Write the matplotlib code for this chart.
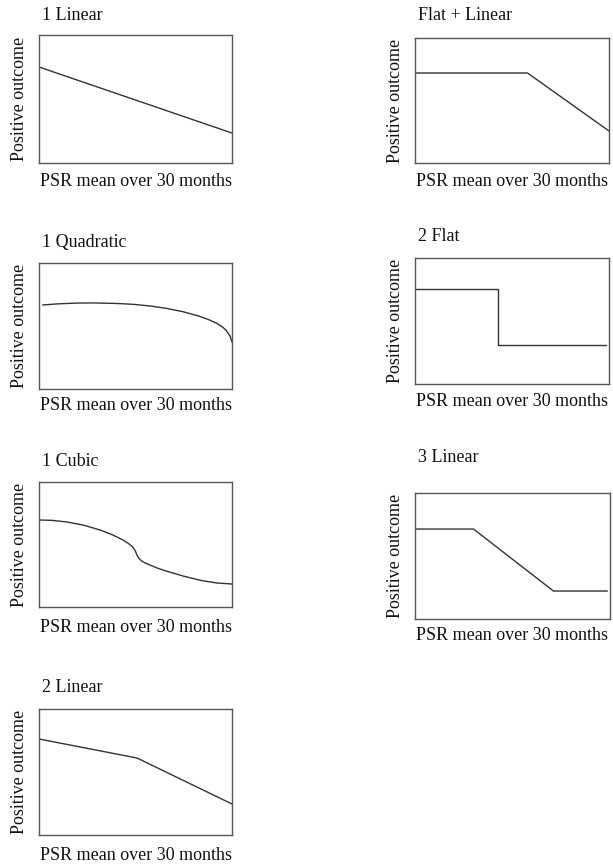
import matplotlib
matplotlib.use("Agg")
import matplotlib.pyplot as plt

W, H = 613, 865

titles = ["1 Linear", "Flat + Linear", "1 Quadratic", "2 Flat",
          "1 Cubic", "3 Linear", "2 Linear"]
xlabel_text = "PSR mean over 30 months"
ylabel_text = "Positive outcome"

# Curves (x and y in 0..1 axes units)
lin1_x = [0.0, 1.0]
lin1_y = [0.75, 0.234]

flatlin_x = [0.0, 0.58, 1.0]
flatlin_y = [0.72, 0.72, 0.256]

quad_x = [0.02, 0.10, 0.20, 0.28, 0.40, 0.49, 0.58, 0.66, 0.75, 0.83, 0.88, 0.92, 0.95, 0.97, 0.99, 1.0]
quad_y = [0.667, 0.676, 0.682, 0.683, 0.679, 0.672, 0.658, 0.640, 0.612, 0.578, 0.550, 0.522, 0.493, 0.465, 0.420, 0.373]

flat2_x = [0.0, 0.43, 0.43, 0.985]
flat2_y = [0.754, 0.754, 0.31, 0.31]

cubic_x = [0.0, 0.07, 0.145, 0.23, 0.316, 0.38, 0.435, 0.46, 0.48, 0.493, 0.50, 0.507, 0.515, 0.53, 0.55, 0.575, 0.61, 0.65, 0.746, 0.84, 0.922, 1.0]
cubic_y = [0.696, 0.693, 0.680, 0.655, 0.616, 0.578, 0.536, 0.512, 0.488, 0.465, 0.445, 0.418, 0.395, 0.370, 0.352, 0.336, 0.313, 0.292, 0.248, 0.212, 0.192, 0.184]

lin3_x = [0.0, 0.30, 0.71, 0.985]
lin3_y = [0.714, 0.714, 0.222, 0.222]

lin2_x = [0.0, 0.508, 1.0]
lin2_y = [0.762, 0.611, 0.246]

series = [(lin1_x, lin1_y), (flatlin_x, flatlin_y), (quad_x, quad_y),
          (flat2_x, flat2_y), (cubic_x, cubic_y), (lin3_x, lin3_y),
          (lin2_x, lin2_y)]

# layout in pixels: (left, right, top, bottom), title y, xlabel y
boxes = [(39, 232, 35, 163), (415, 609, 38, 163),
         (39, 232, 263, 389), (415, 609, 258, 384),
         (39, 232, 482, 607), (415, 610, 493, 619),
         (39, 232, 709, 835)]
title_y = [16, 15, 242, 237, 462, 458, 688]
xlab_y = [182, 182, 405, 402, 627, 635, 855]

fs = 13.0
plt.rcParams['font.family'] = ['Liberation Serif', 'DejaVu Serif']

fig = plt.figure(figsize=(W / 100, H / 100), dpi=100)
fig.patch.set_facecolor('white')

for i, ((xs, ys), (l, r, t, b)) in enumerate(zip(series, boxes)):
    ax = fig.add_axes([l / W, 1 - b / H, (r - l) / W, (b - t) / H])
    ax.plot(xs, ys, color='#333333', lw=1.0)
    ax.set_xlim(0, 1)
    ax.set_ylim(0, 1)
    ax.set_xticks([])
    ax.set_yticks([])
    for s in ax.spines.values():
        s.set_color('#555555')
        s.set_linewidth(1.0)
    fig.text((l + 3) / W, 1 - title_y[i] / H, titles[i], fontsize=fs,
             ha='left', va='center', color='#111111')
    fig.text((l + r) / 2 / W, 1 - xlab_y[i] / H, xlabel_text, fontsize=fs,
             ha='center', va='center', color='#111111')
    ylx = 20 if l < 300 else 395
    fig.text(ylx / W, 1 - (t + b) / 2 / H, ylabel_text, fontsize=fs,
             ha='center', va='center', rotation=90, color='#111111')

fig.savefig("out.png", dpi=100, facecolor='white')
